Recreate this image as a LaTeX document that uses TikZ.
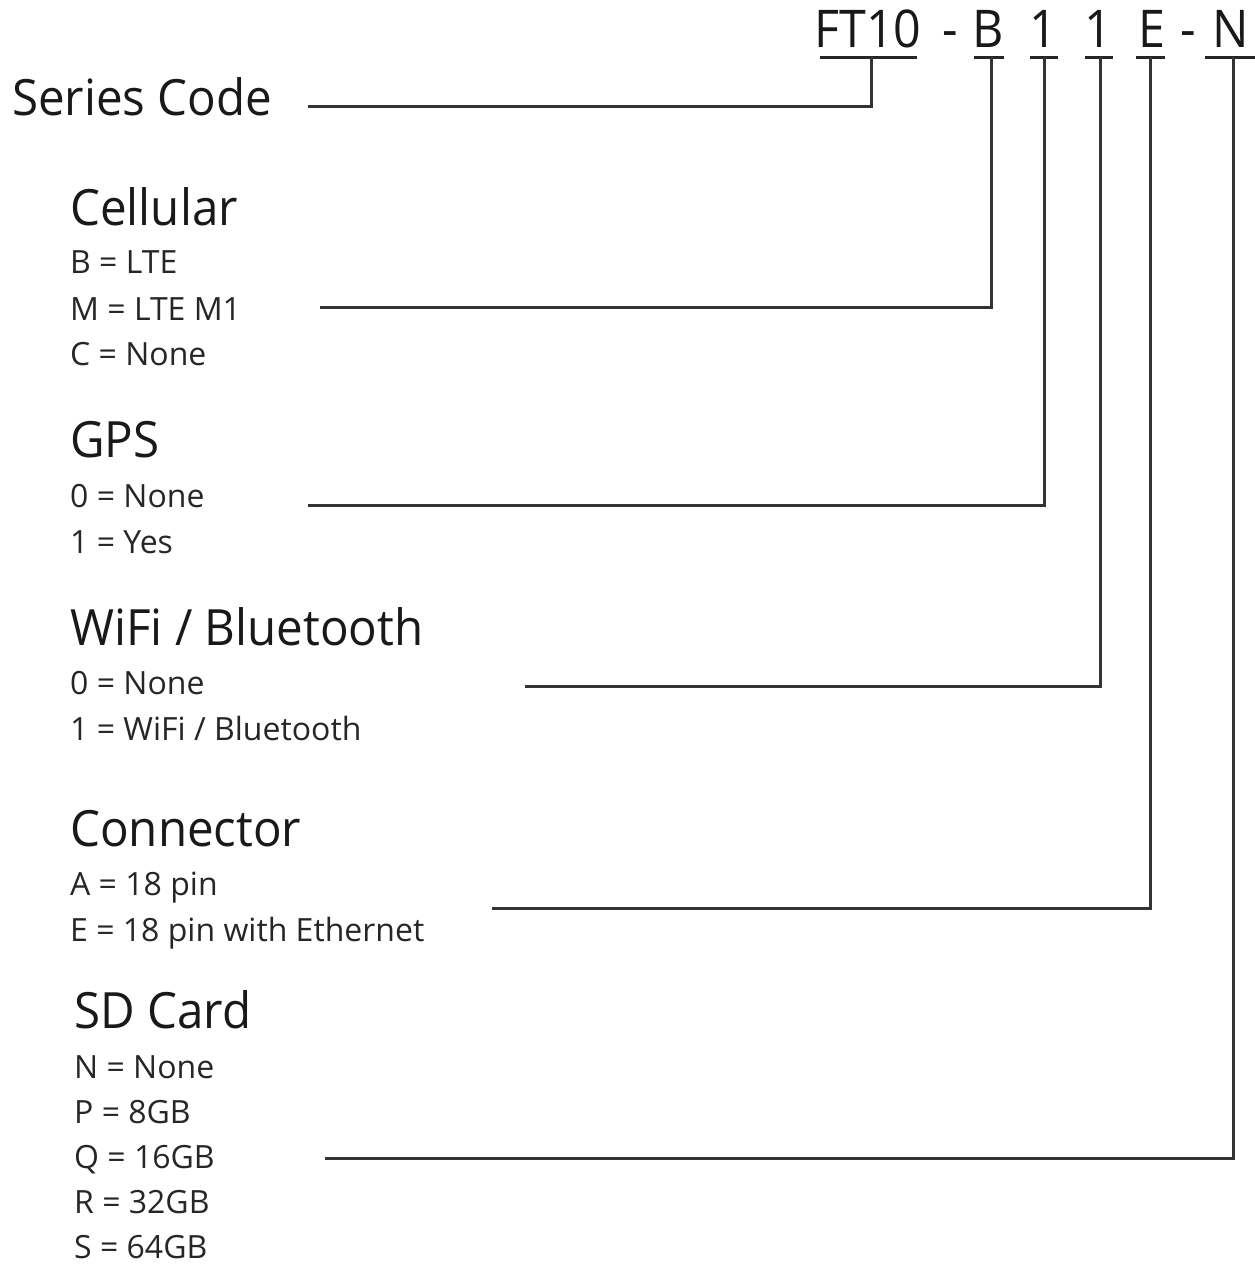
\documentclass[tikz,border=0pt]{standalone}
\usepackage{fontspec}
\setmainfont{Open Sans}
\newfontfamily\headfont[FakeStretch=0.95]{Open Sans}
\newfontfamily\codefont[FakeStretch=0.93]{Open Sans}
\begin{document}
\begin{tikzpicture}[x=1pt,y=-1pt,
  head/.style={anchor=base west, inner sep=0, font=\headfont\fontsize{50}{60}\selectfont, text=black!90},
  opt/.style={anchor=base west, inner sep=0, font=\fontsize{32}{38}\selectfont, text=black!85},
  code/.style={anchor=base, inner sep=0, font=\codefont\fontsize{52}{60}\selectfont, text=black!90},
  wire/.style={line width=3pt, draw=black!80},
  uline/.style={line width=3pt, draw=black!85}]
\useasboundingbox (0,0) rectangle (1255,1266);

% code string
\node[code] (ft) at (868,47) {FT10};
\node[code] (d1) at (950,47) {-};
\node[code] (cb) at (988,47) {B};
\node[code] (cg) at (1043,47) {1};
\node[code] (cw) at (1098,47) {1};
\node[code] (ce) at (1152,47) {E};
\node[code] (d2) at (1188,47) {-};
\node[code] (cn) at (1231,47) {N};

% underlines
\draw[uline] (820,57) -- (917,57);
\draw[uline] (974,57) -- (1004,57);
\draw[uline] (1030,57) -- (1058,57);
\draw[uline] (1085,57) -- (1113,57);
\draw[uline] (1136,57) -- (1165,57);
\draw[uline] (1205,57) -- (1255,57);
\coordinate (uft) at (871,57);
\coordinate (ucb) at (991,57);
\coordinate (ucg) at (1044,57);
\coordinate (ucw) at (1100,57);
\coordinate (uce) at (1150,57);
\coordinate (ucn) at (1233,57);

% labels
\node[head] (series) at (12,115) {Series Code};

\node[head] (cell) at (70,225) {Cellular};
\node[opt] (cell1) at (70,273) {B = LTE};
\node[opt] (cell2) at (70,320) {M = LTE M1};
\node[opt] (cell3) at (70,365) {C = None};

\node[head] (gps) at (70,457) {GPS};
\node[opt] (gps1) at (70,507) {0 = None};
\node[opt] (gps2) at (70,553) {1 = Yes};

\node[head] (wifi) at (70,645) {WiFi / Bluetooth};
\node[opt] (wifi1) at (70,694) {0 = None};
\node[opt] (wifi2) at (70,740) {1 = WiFi / Bluetooth};

\node[head] (conn) at (70,846) {Connector};
\node[opt] (conn1) at (70,895) {A = 18 pin};
\node[opt] (conn2) at (70,941) {E = 18 pin with Ethernet};

\node[head] (sd) at (74,1028) {SD Card};
\node[opt] (sd1) at (74,1078) {N = None};
\node[opt] (sd2) at (74,1123) {P = 8GB};
\node[opt] (sd3) at (74,1168) {Q = 16GB};
\node[opt] (sd4) at (74,1213) {R = 32GB};
\node[opt] (sd5) at (74,1258) {S = 64GB};

% connector starts
\coordinate (sseries) at (308,106);
\coordinate (scell) at (320,307);
\coordinate (sgps) at (308,505);
\coordinate (swifi) at (525,686);
\coordinate (sconn) at (492,908);
\coordinate (ssd) at (325,1158);

\draw[wire] (sseries) -| (uft);
\draw[wire] (scell) -| (ucb);
\draw[wire] (sgps) -| (ucg);
\draw[wire] (swifi) -| (ucw);
\draw[wire] (sconn) -| (uce);
\draw[wire] (ssd) -| (ucn);
\end{tikzpicture}
\end{document}
